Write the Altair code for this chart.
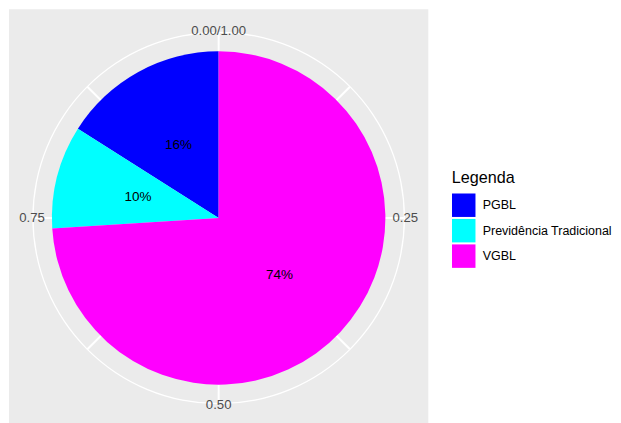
import altair as alt
import pandas as pd

# data
categorias = ["PGBL", "Previdência Tradicional", "VGBL"]
valores = [0.16, 0.10, 0.74]
ordem = [3, 2, 1]          # ggplot stack: VGBL starts at 12 o'clock
rotulos = ["16%", "10%", "74%"]
cores = ["#0000FF", "#00FFFF", "#FF00FF"]

ticks_major = [0.0, 0.25, 0.5, 0.75]
tick_labels = ["0.00/1.00", "0.25", "0.50", "0.75"]
ticks_minor = [0.125, 0.375, 0.625, 0.875]

FONT = "Liberation Sans"
W, H = 420, 418
R_PIE = 167
R_OUT = 186
half = 0.0009

pie_df = pd.DataFrame({"categoria": categorias, "valor": valores,
                       "ordem": ordem, "rotulo": rotulos})
grid_df = pd.DataFrame({"t": ticks_major + ticks_minor})
grid_df["t0"] = grid_df["t"] - half
grid_df["t1"] = grid_df["t"] + half
lab_df = pd.DataFrame({"t": ticks_major, "lab": tick_labels})
ring_df = pd.DataFrame({"t0": [0.0], "t1": [1.0]})

tscale = alt.Scale(domain=[0, 1])

panel = alt.Chart(ring_df).mark_rect(color="#EBEBEB").encode(
    x=alt.value(0), x2=alt.value(W), y=alt.value(0), y2=alt.value(H),
)

ring = alt.Chart(ring_df).mark_arc(radius=R_OUT + 0.6, radius2=R_OUT - 0.6,
                                   color="white").encode(
    theta=alt.Theta("t0:Q", scale=tscale, stack=None),
    theta2="t1:Q",
)

grid = alt.Chart(grid_df).mark_arc(radius=R_OUT, radius2=R_PIE - 2,
                                   color="white").encode(
    theta=alt.Theta("t0:Q", scale=tscale, stack=None),
    theta2="t1:Q",
)

axis_labels = alt.Chart(lab_df).mark_text(
    radius=R_OUT + 1, font=FONT, fontSize=13.2, color="#4D4D4D",
    align="center", baseline="middle").encode(
    theta=alt.Theta("t:Q", scale=tscale, stack=None),
    text="lab:N",
)

pie = alt.Chart(pie_df).mark_arc(radius=R_PIE).encode(
    theta=alt.Theta("valor:Q", stack=True, scale=tscale),
    order=alt.Order("ordem:Q"),
    color=alt.Color(
        "categoria:N",
        scale=alt.Scale(domain=categorias, range=cores),
        legend=alt.Legend(
            title="Legenda", orient="none", legendX=443.5, legendY=161,
            symbolType="square", symbolSize=552, symbolStrokeWidth=0,
            symbolOpacity=1,
            titleFont=FONT, titleFontSize=16.2, titleFontWeight="normal",
            titleColor="#000000", titlePadding=7,
            labelFont=FONT, labelFontSize=12.5, labelColor="#000000",
            labelOffset=7, rowPadding=1.5, padding=0,
        ),
    ),
)

pie_text = alt.Chart(pie_df).mark_text(
    radius=R_PIE / 2, font=FONT, fontSize=13.5, color="#000000",
    align="center", baseline="middle").encode(
    theta=alt.Theta("valor:Q", stack=True, scale=tscale),
    order=alt.Order("ordem:Q"),
    detail="categoria:N",
    text="rotulo:N",
)

chart = alt.layer(panel, ring, grid, pie, pie_text, axis_labels).properties(
    width=W, height=H,
    padding={"left": 1, "top": 1, "right": 0, "bottom": 0},
).configure_view(stroke=None)

chart.save("out.html", embed_options={"renderer": "svg", "actions": False})
